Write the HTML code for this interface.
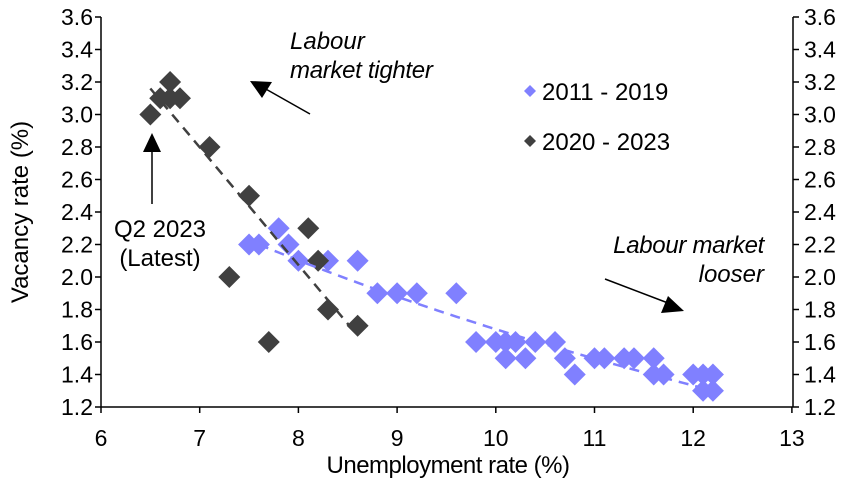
<!DOCTYPE html>
<html><head><meta charset="utf-8"><style>
html,body{margin:0;padding:0;background:#fff;}
svg{display:block;font-family:"Liberation Sans",Arial,sans-serif;}
</style></head><body>
<svg id="s" width="852" height="479" viewBox="0 0 852 479" xmlns="http://www.w3.org/2000/svg"></svg>
<script>
const X=x=>101+(x-6)*98.7, Y=y=>407-(y-1.2)*162.5;
let h='';
h+=`<line x1="101" y1="17" x2="101" y2="407" stroke="#000" stroke-width="1.5"/>`;
h+=`<line x1="793" y1="17" x2="793" y2="407" stroke="#000" stroke-width="1.5"/>`;
h+=`<line x1="101" y1="407" x2="793" y2="407" stroke="#000" stroke-width="1.5"/>`;
for(let i=0;i<=12;i++){const v=1.2+i*0.2,y=Y(v);
 h+=`<line x1="95" y1="${y}" x2="101" y2="${y}" stroke="#000" stroke-width="1.5"/>`;
 h+=`<line x1="793" y1="${y}" x2="799" y2="${y}" stroke="#000" stroke-width="1.5"/>`;
 h+=`<text x="93" y="${y+8}" font-size="23" text-anchor="end">${v.toFixed(1)}</text>`;
 h+=`<text x="804" y="${y+8}" font-size="23">${v.toFixed(1)}</text>`;}
for(let x=6;x<=13;x++){const px=X(x);
 h+=`<line x1="${px}" y1="407" x2="${px}" y2="413" stroke="#000" stroke-width="1.5"/>`;
 h+=`<text x="${px}" y="446" font-size="23" text-anchor="middle">${x}</text>`;}
h+=`<text x="448" y="473" font-size="24" text-anchor="middle" letter-spacing="-0.5">Unemployment rate (%)</text>`;
h+=`<text transform="translate(28,212) rotate(-90)" font-size="24" text-anchor="middle">Vacancy rate (%)</text>`;
const dia=(x,y,c,r)=>{const a=X(x),b=Y(y);return `<polygon points="${a},${b-r} ${a+r},${b} ${a},${b+r} ${a-r},${b}" fill="${c}"/>`;};
const blue=[[7.5,2.2],[7.6,2.2],[7.8,2.3],[7.9,2.2],[8.0,2.1],[8.3,2.1],[8.6,2.1],[8.8,1.9],[9.0,1.9],[9.2,1.9],[9.6,1.9],[9.8,1.6],[10.0,1.6],[10.1,1.5],[10.1,1.6],[10.2,1.6],[10.3,1.5],[10.4,1.6],[10.6,1.6],[10.7,1.5],[10.8,1.4],[11.0,1.5],[11.1,1.5],[11.3,1.5],[11.4,1.5],[11.6,1.5],[11.6,1.4],[11.7,1.4],[12.0,1.4],[12.1,1.4],[12.1,1.3],[12.2,1.4],[12.2,1.3]];
const dark=[[6.5,3.0],[6.6,3.1],[6.7,3.2],[6.7,3.1],[6.8,3.1],[7.1,2.8],[7.5,2.5],[7.3,2.0],[7.7,1.6],[8.1,2.3],[8.2,2.1],[8.3,1.8],[8.6,1.7]];
blue.forEach(p=>h+=dia(p[0],p[1],'#8080ff',11));
dark.forEach(p=>h+=dia(p[0],p[1],'#404040',11));
let pts=[];for(let x=7.6;x<=12.21;x+=0.1){pts.push(X(x)+','+Y(2.2-1.9*Math.log(x/7.6)));}
h+=`<polyline points="${pts.join(' ')}" fill="none" stroke="#8080ff" stroke-width="2.5" stroke-dasharray="10,7"/>`;
h+=`<line x1="${X(6.5)}" y1="${Y(3.16)}" x2="${X(8.6)}" y2="${Y(1.64)}" stroke="#404040" stroke-width="2.5" stroke-dasharray="10,7"/>`;
h+=`<polygon points="530,85 536,91 530,97 524,91" fill="#8080ff"/><text x="542" y="100" font-size="24">2011 - 2019</text>`;
h+=`<polygon points="530,135 536,141 530,147 524,141" fill="#404040"/><text x="542" y="150" font-size="24">2020 - 2023</text>`;
h+=`<text x="290" y="49" font-size="24" font-style="italic">Labour</text>`;
h+=`<text x="290" y="78" font-size="24" font-style="italic" letter-spacing="-0.3">market tighter</text>`;
h+=`<line x1="310" y1="114" x2="264" y2="88" stroke="#000" stroke-width="1.5"/><polygon points="250,81 272,82 262,98" fill="#000"/>`;
h+=`<line x1="152" y1="204" x2="152" y2="150" stroke="#000" stroke-width="1.5"/><polygon points="152,133 143,152 161,152" fill="#000"/>`;
h+=`<text x="160" y="237" font-size="24" text-anchor="middle">Q2 2023</text>`;
h+=`<text x="160" y="266" font-size="24" text-anchor="middle">(Latest)</text>`;
h+=`<text x="764" y="253" font-size="24" font-style="italic" text-anchor="end" letter-spacing="-0.3">Labour market</text>`;
h+=`<text x="764" y="282" font-size="24" font-style="italic" text-anchor="end">looser</text>`;
h+=`<line x1="605" y1="279" x2="668" y2="303" stroke="#000" stroke-width="1.5"/><polygon points="684,311 661,313 668,296" fill="#000"/>`;
document.getElementById('s').innerHTML=h;
</script>
</body></html>
